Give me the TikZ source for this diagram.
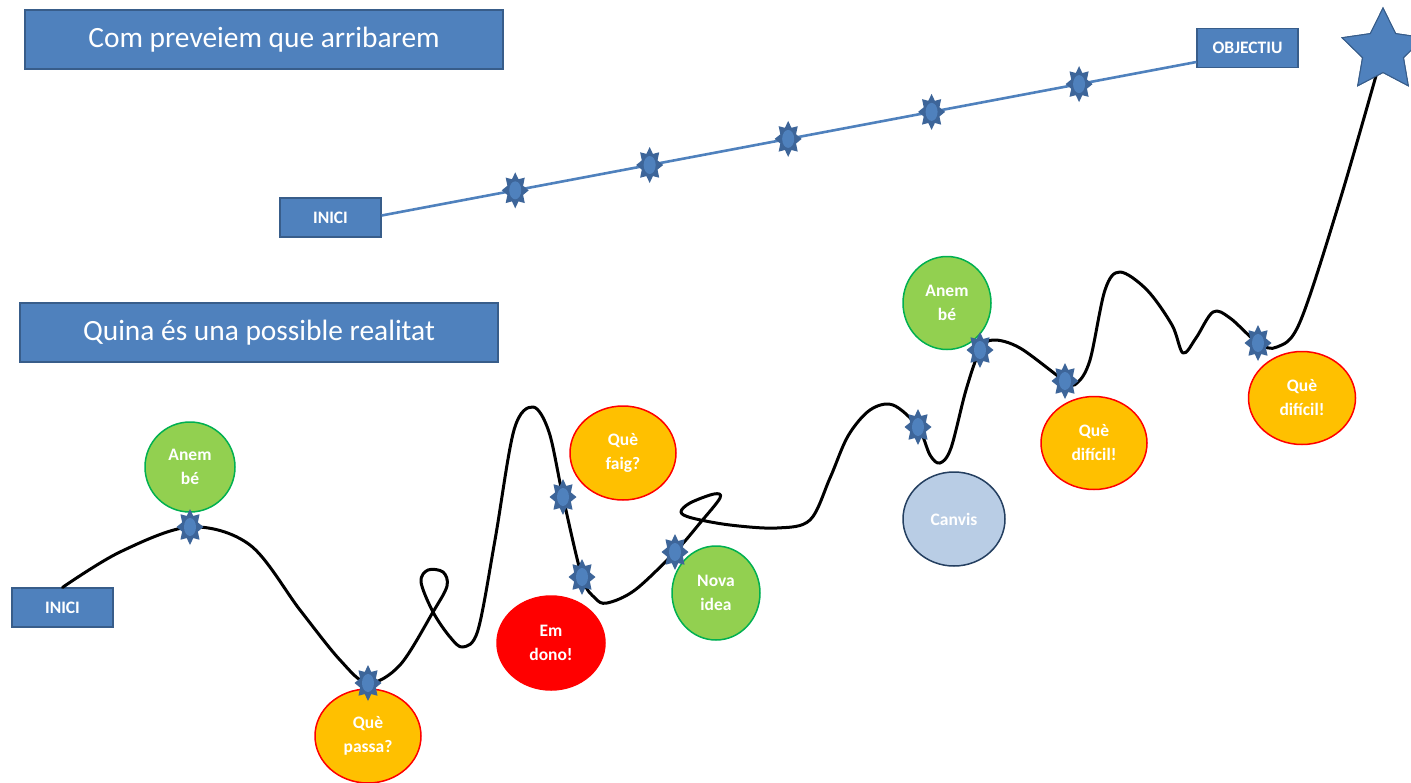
\documentclass[tikz,border=0pt]{standalone}
\usepackage{fontspec}
\setmainfont{Carlito}
\usetikzlibrary{shapes.geometric,calc}
\definecolor{boxblue}{HTML}{4F81BD}
\definecolor{boxborder}{HTML}{385D8A}
\definecolor{sdark}{HTML}{3D6599}
\definecolor{slight}{HTML}{4F81BD}
\definecolor{bgreen}{HTML}{92D050}
\definecolor{bgreenb}{HTML}{00B050}
\definecolor{borange}{HTML}{FFC000}
\definecolor{bred}{HTML}{FF0000}
\definecolor{bpale}{HTML}{B9CDE5}
\definecolor{bpaleb}{HTML}{243F60}
\begin{document}
\begin{tikzpicture}[x=1pt,y=-1pt,
  titlebox/.style={draw=boxborder, line width=1.2pt, fill=boxblue, text=white, minimum width=478, minimum height=59, inner sep=0pt, font=\fontsize{29.4}{34}\selectfont},
  tagbox/.style={draw=boxborder, line width=1.2pt, fill=boxblue, text=white, minimum width=101, minimum height=39, inner sep=0pt, font=\bfseries\fontsize{17.5}{20}\selectfont},
  bubble/.style={ellipse, inner sep=0pt, line width=1.5pt, text=white, align=center, font=\bfseries\fontsize{17.5}{24}\selectfont},
  good/.style={bubble, fill=bgreen, draw=bgreenb},
  hard/.style={bubble, fill=borange, draw=bred},
  bad/.style={bubble, fill=bred, draw=bred},
  change/.style={bubble, fill=bpale, draw=bpaleb},
  planline/.style={draw=boxblue, line width=2.6pt},
  realline/.style={draw=black, line width=3pt, line cap=round, line join=round},
  burst/.pic={
    \fill[sdark] (0,18) \foreach \a [evaluate=\a as \r using {mod(\a,2)==0 ? 13.5 : 8.5}, evaluate=\a as \s using {mod(\a,2)==0 ? 18 : 12}] in {1,...,15} { -- ({\r*cos(90+\a*22.5)},{\s*sin(90+\a*22.5)}) } -- cycle;
    \fill[slight] (0,0) ellipse (6 and 9);
  },
  goalstar/.style={star, star points=5, star point ratio=2.0, minimum size=86, inner sep=0pt, fill=boxblue, draw=boxborder, line width=1pt}
]
\useasboundingbox (0,0) rectangle (1411,782);
\fill[white] (0,0) rectangle (1411,782);

% titles
\node[titlebox] (title1) at (264,39.5) {Com preveiem que arribarem};
\node[titlebox] (title2) at (259,332.5) {Quina és una possible realitat};

% planned path
\node[tagbox] (inici1) at (330.5,217.5) {INICI};
\node[tagbox] (objectiu) at (1247.5,48) {OBJECTIU};
\coordinate (planA) at ([yshift=2]inici1.east);
\coordinate (planB) at ([yshift=-14]objectiu.west);
\draw[planline] (planA) -- (planB);
\path (planA) -- (planB)
  coordinate[pos=0.164] (p1)
  coordinate[pos=0.329] (p2)
  coordinate[pos=0.499] (p3)
  coordinate[pos=0.675] (p4)
  coordinate[pos=0.856] (p5);
\foreach \p in {p1,p2,p3,p4,p5} { \pic at (\p) {burst}; }

% bubbles
\node[good, minimum width=90, minimum height=90] (b1) at (190,467) {Anem\\bé};
\node[hard, minimum width=106, minimum height=94] (b2) at (368,736) {Què\\passa?};
\node[bad, minimum width=108, minimum height=94] (b3) at (551,643) {Em\\dono!};
\node[hard, minimum width=106, minimum height=94] (b4) at (623,453) {Què\\faig?};
\node[good, minimum width=88, minimum height=94] (b5) at (716,593) {Nova\\idea};
\node[change, minimum width=102, minimum height=94] (b6) at (954,519) {Canvis};
\node[good, minimum width=88, minimum height=93] (b7) at (947,303) {Anem\\bé};
\node[hard, minimum width=106, minimum height=93] (b8) at (1094,443) {Què\\difícil!};
\node[hard, minimum width=107, minimum height=93] (b9) at (1302,398) {Què\\difícil!};

% real path
\node[tagbox] (inici2) at (62.5,607.5) {INICI};
\node[goalstar] (goal) at (1383,51) {};
\coordinate (r1) at (190,527);
\coordinate (r2) at (368,683);
\coordinate (r3) at (563,497);
\coordinate (r4) at (582,577);
\coordinate (r5) at (675,552);
\coordinate (r6) at (918,427);
\coordinate (r7) at (980,350);
\coordinate (r8) at (1065,381);
\coordinate (r9) at (1258,343);
\draw[realline] plot[smooth, tension=0.55] coordinates {
  (inici2.north) (120,552) (r1) (250,545) (300,610) (340,660) (r2) (400,665)
  (433,612) (447,586) (443,572) (428,570) (421,582) (433,612) (450,637) (463,647)
  (478,630) (495,540) (514,430) (533,407) (549,432) (r3) (r4) (595,598) (607,603)
  (635,590) (r5) (700,523) (720,498) (714,494) (690,503) (681,512) (692,518)
  (730,525) (777,528) (810,520) (830,478) (848,436) (870,410) (893,405) (r6)
  (930,455) (940,463) (951,448) (966,390) (r7) (993,340) (1020,348) (r8) (1077,383)
  (1090,360) (1105,290) (1120,272) (1147,290) (1172,325) (1183,353) (1196,338)
  (1213,312) (1230,318) (r9) (1277,347) (1300,322) (1340,200) (goal.center)};
% redraw the goal star on top of the curve end
\node[goalstar] (goaltop) at (goal.center) {};
\foreach \p in {r1,r2,r3,r4,r5,r6,r7,r8,r9} { \pic at (\p) {burst}; }
\end{tikzpicture}
\end{document}
